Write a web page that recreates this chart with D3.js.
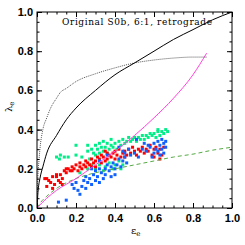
<!DOCTYPE html>
<html>
<head>
<meta charset="utf-8">
<script src="https://cdn.jsdelivr.net/npm/d3@7"></script>
<style>
  body { margin: 0; background: #fff; }
  .tick text { font-family: "Liberation Sans", Arial, sans-serif; font-weight: bold; font-size: 11px; fill: #000; }
</style>
</head>
<body>
<svg id="chart"></svg>
<script>
// theoretical curves (eps, lambda)
const solidEps = [0, 0.005, 0.015, 0.03, 0.05, 0.1, 0.15, 0.2, 0.3, 0.4, 0.5, 0.6, 0.7, 0.8, 0.9, 1.0];
const solidLam = [0, 0.08, 0.15, 0.21, 0.28, 0.37, 0.45, 0.51, 0.6, 0.68, 0.74, 0.8, 0.86, 0.91, 0.96, 1.0];

const dotEps = [0, 0.005, 0.01, 0.015, 0.03, 0.05, 0.07, 0.1, 0.12, 0.15, 0.2, 0.3, 0.4, 0.5, 0.6, 0.7, 0.8, 0.87];
const dotLam = [0, 0.17, 0.24, 0.3, 0.4, 0.46, 0.51, 0.56, 0.59, 0.61, 0.645, 0.685, 0.715, 0.74, 0.755, 0.765, 0.77, 0.77];

const magEps = [0, 0.05, 0.1, 0.2, 0.3, 0.4, 0.5, 0.6, 0.7, 0.8, 0.87];
const magLam = [0, 0.05, 0.09, 0.15, 0.22, 0.29, 0.37, 0.46, 0.56, 0.68, 0.79];

const dashEps = [0, 0.02, 0.05, 0.1, 0.2, 0.3, 0.4, 0.5, 0.6, 0.7, 0.8, 0.9, 1.0];
const dashLam = [0, 0.03, 0.06, 0.1, 0.15, 0.18, 0.2, 0.22, 0.24, 0.26, 0.275, 0.295, 0.31];

// scatter points [eps, lambda]
const redPts = [[0.04,0.15],[0.05,0.11],[0.06,0.14],[0.07,0.13],[0.08,0.16],[0.09,0.12],[0.1,0.16],[0.11,0.14],[0.12,0.13],[0.12,0.17],
  [0.13,0.15],[0.14,0.19],[0.13,0.12],[0.15,0.18],[0.16,0.2],[0.17,0.19],[0.18,0.21],[0.19,0.2],[0.2,0.22],[0.21,0.19],
  [0.22,0.21],[0.22,0.23],[0.23,0.2],[0.24,0.22],[0.25,0.24],[0.25,0.21],[0.26,0.23],[0.27,0.22],[0.28,0.25],[0.29,0.23],
  [0.3,0.24],[0.3,0.21],[0.31,0.26],[0.32,0.25],[0.33,0.23],[0.33,0.27],[0.34,0.26],[0.35,0.24],[0.36,0.28],[0.36,0.25],
  [0.37,0.27],[0.38,0.26],[0.39,0.28],[0.4,0.25],[0.4,0.29],[0.41,0.27],[0.42,0.3],[0.43,0.26],[0.44,0.28],[0.45,0.29],
  [0.46,0.27],[0.47,0.3],[0.48,0.28],[0.49,0.31],[0.5,0.29],[0.51,0.27],[0.52,0.3],[0.53,0.29],[0.54,0.31],[0.55,0.28],
  [0.56,0.3],[0.57,0.29],[0.58,0.32],[0.59,0.27],[0.6,0.3],[0.6,0.26],[0.61,0.31],[0.62,0.28],[0.63,0.3],[0.64,0.27],
  [0.65,0.31],[0.63,0.25],[0.05,0.15],[0.1,0.17],[0.08,0.1],[0.15,0.2],[0.18,0.19],[0.28,0.21],[0.35,0.29],[0.45,0.26]];

const greenPts = [[0.1,0.26],[0.12,0.27],[0.14,0.26],[0.115,0.25],[0.16,0.26],[0.2,0.27],[0.2,0.32],[0.26,0.32],[0.23,0.26],[0.26,0.29],
  [0.27,0.25],[0.28,0.3],[0.29,0.28],[0.3,0.32],[0.3,0.27],[0.31,0.3],[0.32,0.33],[0.32,0.28],[0.33,0.31],[0.34,0.29],
  [0.34,0.34],[0.35,0.31],[0.36,0.33],[0.36,0.28],[0.37,0.3],[0.38,0.32],[0.38,0.35],[0.39,0.31],[0.4,0.33],[0.41,0.3],
  [0.42,0.34],[0.43,0.32],[0.44,0.35],[0.45,0.33],[0.46,0.34],[0.47,0.36],[0.48,0.34],[0.49,0.35],[0.5,0.36],[0.51,0.34],
  [0.52,0.36],[0.53,0.35],[0.54,0.37],[0.55,0.35],[0.56,0.37],[0.57,0.36],[0.58,0.38],[0.59,0.37],[0.6,0.38],[0.61,0.36],
  [0.62,0.39],[0.63,0.37],[0.64,0.39],[0.65,0.38],[0.66,0.4],[0.67,0.39],[0.62,0.4],
  [0.28,0.22],[0.3,0.2],[0.32,0.22],[0.34,0.19],[0.35,0.21],[0.37,0.23],[0.39,0.2],[0.4,0.22],[0.42,0.24],[0.43,0.2],
  [0.44,0.22],[0.26,0.2],[0.22,0.18]];

const bluePts = [[0.11,0.03],[0.15,0.04],[0.18,0.12],[0.19,0.1],[0.2,0.13],[0.21,0.09],[0.22,0.07],[0.23,0.11],[0.24,0.14],[0.25,0.1],
  [0.25,0.16],[0.26,0.13],[0.27,0.15],[0.28,0.12],[0.29,0.17],[0.3,0.14],[0.3,0.19],[0.31,0.16],[0.32,0.2],[0.32,0.13],
  [0.33,0.18],[0.34,0.15],[0.35,0.2],[0.35,0.17],[0.36,0.22],[0.37,0.19],[0.38,0.21],[0.38,0.16],[0.39,0.23],[0.4,0.2],
  [0.41,0.22],[0.42,0.25],[0.43,0.21],[0.44,0.24],[0.45,0.26],[0.46,0.23],[0.48,0.27],[0.5,0.28],[0.52,0.26],[0.54,0.3],
  [0.56,0.29],[0.58,0.31],[0.6,0.28],[0.6,0.33],[0.61,0.3],[0.62,0.34],[0.62,0.29],[0.63,0.32],[0.64,0.35],[0.64,0.3],
  [0.65,0.33],[0.65,0.28],[0.66,0.31],[0.66,0.34],[0.63,0.27],[0.59,0.26],[0.57,0.32],[0.47,0.3],[0.44,0.29],[0.42,0.31],
  [0.36,0.27],[0.32,0.24],[0.28,0.2],[0.4,0.17],[0.45,0.28],[0.51,0.35],[0.55,0.33]];

const tickVals = [0, 0.2, 0.4, 0.6, 0.8, 1.0];
const minorVals = d3.range(0, 1.0001, 0.05);
const titleText = "Original S0b, 6:1, retrograde";

const W = 245, H = 245;
const margin = { top: 12, right: 13, bottom: 37, left: 37 };
const w = W - margin.left - margin.right;
const h = H - margin.top - margin.bottom;

const svg = d3.select('#chart').attr('width', W).attr('height', H);
const g = svg.append('g').attr('transform', `translate(${margin.left},${margin.top})`);

const x = d3.scaleLinear().domain([0, 1]).range([0, w]);
const y = d3.scaleLinear().domain([0, 1]).range([h, 0]);

// clip for the curves
svg.append('defs').append('clipPath').attr('id', 'clip')
  .append('rect').attr('width', w).attr('height', h);
const plot = g.append('g').attr('clip-path', 'url(#clip)');

const line = d3.line().x(d => x(d[0])).y(d => y(d[1])).curve(d3.curveMonotoneX);
const zip = (a, b) => a.map((v, i) => [v, b[i]]);

// scatter
const drawPts = (pts, color) => {
  plot.append('g').selectAll('rect')
    .data(pts)
    .join('rect')
      .attr('x', d => x(d[0]) - 1.5)
      .attr('y', d => y(d[1]) - 1.5)
      .attr('width', 3)
      .attr('height', 3)
      .attr('fill', color);
};
drawPts(greenPts, '#00ee88');
drawPts(redPts, '#ff0000');
drawPts(bluePts, '#1060ff');

plot.append('path').datum(zip(dashEps, dashLam)).attr('d', line)
  .attr('fill', 'none').attr('stroke', '#55aa44').attr('stroke-width', 1).attr('stroke-dasharray', '4,3');
plot.append('path').datum(zip(magEps, magLam)).attr('d', line)
  .attr('fill', 'none').attr('stroke', '#ff44dd').attr('stroke-width', 1);
plot.append('path').datum(zip(dotEps, dotLam)).attr('d', line)
  .attr('fill', 'none').attr('stroke', '#555').attr('stroke-width', 1).attr('stroke-dasharray', '1,1');
plot.append('path').datum(zip(solidEps, solidLam)).attr('d', line)
  .attr('fill', 'none').attr('stroke', '#000').attr('stroke-width', 1);

// axes, ticks inside on all four sides
const fmt = d3.format('.1f');
const addAxis = (axis, tx, ty, vals, size, pad) => {
  const a = g.append('g').attr('transform', `translate(${tx},${ty})`)
    .call(axis.tickValues(vals).tickSize(size).tickFormat(pad ? fmt : '').tickPadding(pad || 0));
  a.select('.domain').remove();
  a.selectAll('.tick line').attr('stroke', '#000');
  return a;
};
addAxis(d3.axisBottom(x), 0, h, minorVals, -2.5, 0);
addAxis(d3.axisTop(x), 0, 0, minorVals, -2.5, 0);
addAxis(d3.axisLeft(y), 0, 0, minorVals, -2.5, 0);
addAxis(d3.axisRight(y), w, 0, minorVals, -2.5, 0);
addAxis(d3.axisBottom(x), 0, h, tickVals, -5, 6);
addAxis(d3.axisTop(x), 0, 0, tickVals, -5, 0);
addAxis(d3.axisLeft(y), 0, 0, tickVals, -5, 4);
addAxis(d3.axisRight(y), w, 0, tickVals, -5, 0);

g.append('rect').attr('width', w).attr('height', h)
  .attr('fill', 'none').attr('stroke', '#000').attr('stroke-width', 1);

// title
g.append('text')
  .attr('x', 25).attr('y', 13)
  .attr('textLength', 150)
  .attr('lengthAdjust', 'spacing')
  .style('font-family', '"DejaVu Serif", serif')
  .style('font-size', '9px')
  .text(titleText);

// axis titles
const xl = svg.append('text')
  .attr('x', 131).attr('y', 234)
  .style('font-family', '"DejaVu Serif", serif')
  .style('font-size', '10px');
xl.append('tspan').text('ε');
xl.append('tspan').attr('dy', 2).style('font-size', '7px').text('e');

const yl = svg.append('text')
  .attr('transform', 'translate(12,112) rotate(-90)')
  .style('font-family', '"DejaVu Serif", serif')
  .style('font-size', '10px');
yl.append('tspan').text('λ');
yl.append('tspan').attr('dy', 2).style('font-size', '7px').text('e');
</script>
</body>
</html>
